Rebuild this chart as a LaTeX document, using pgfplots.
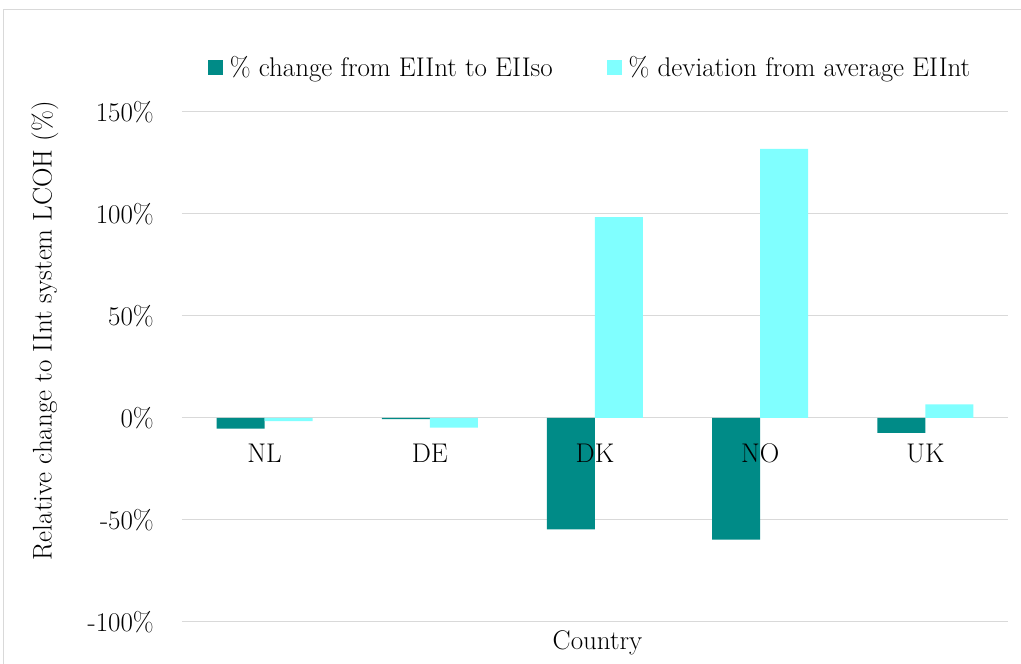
\documentclass[border=0pt]{standalone}
\usepackage{pgfplots}
\pgfplotsset{compat=1.18}
\definecolor{tealbar}{HTML}{008B87}
\definecolor{cyanbar}{HTML}{80FFFF}
\definecolor{gridgray}{HTML}{D9D9D9}
\newcommand{\chfont}{\fontsize{27}{32}\selectfont}
\begin{document}
\chfont
\begin{tikzpicture}
\useasboundingbox (-182pt,-42pt) rectangle (839pt,622pt);
\draw[gridgray, line width=1pt] (-178pt,-60pt) -- (-178pt,612pt) -- (860pt,612pt);
\begin{axis}[
  at={(0,0)}, anchor=south west,
  scale only axis, width=826pt, height=510pt,
  xmin=-0.5, xmax=4.5, ymin=-100, ymax=150,
  ytick={-100,-50,0,50,100,150},
  yticklabels={-100\%,-50\%,0\%,50\%,100\%,150\%},
  xtick={0,1,2,3,4},
  xticklabels={},
  ymajorgrids, grid style={gridgray, line width=1pt},
  axis line style={draw=none},
  tick style={draw=none},
  ybar=0pt, bar width=48pt,
  yticklabel style={xshift=-19pt, font=\chfont},
  /pgf/number format/assume math mode=true,
  ylabel={Relative change to IInt system LCOH (\%)},
  ylabel style={at={(axis description cs:-0.166,0.571)}, anchor=center, font=\chfont},
  xlabel={Country},
  xlabel style={at={(axis description cs:0.503,-0.041)}, anchor=center, font=\chfont},
  legend columns=2,
  legend style={draw=none, fill=none, at={(axis description cs:0.494,1.086)}, anchor=center,
    font=\chfont,
    /tikz/every odd column/.append style={column sep=5pt},
    /tikz/every even column/.append style={column sep=52pt}},
  legend image code/.code={\fill[#1] (0pt,-7pt) rectangle (15pt,8pt);},
]
\addplot[fill=tealbar, draw=none] coordinates {(0,-5.2) (1,-0.5) (2,-54.6) (3,-59.6) (4,-7.3)};
\addplot[fill=cyanbar, draw=none] coordinates {(0,-1.5) (1,-4.7) (2,98.5) (3,131.9) (4,6.7)};
\legend{\% change from EIInt to EIIso, \% deviation from average EIInt}
\node[font=\chfont] at (axis cs:0,0) [yshift=-35pt] {NL};
\node[font=\chfont] at (axis cs:1,0) [yshift=-35pt] {DE};
\node[font=\chfont] at (axis cs:2,0) [yshift=-35pt] {DK};
\node[font=\chfont] at (axis cs:3,0) [yshift=-35pt] {NO};
\node[font=\chfont] at (axis cs:4,0) [yshift=-35pt] {UK};
\end{axis}
\end{tikzpicture}
\end{document}
